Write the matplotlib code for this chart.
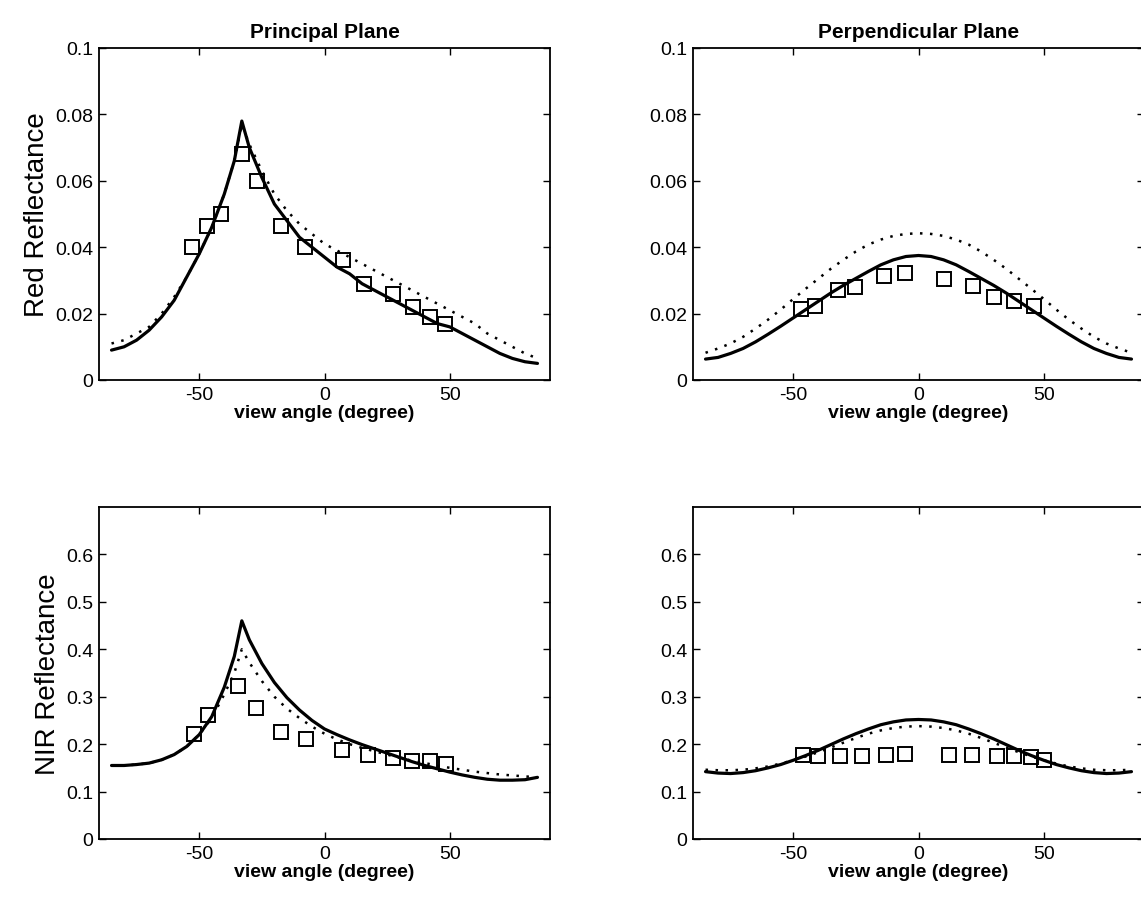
import matplotlib
matplotlib.use("Agg")
import matplotlib.pyplot as plt

plt.rcParams['font.family'] = ['Liberation Sans', 'DejaVu Sans']

# ---- model curves (view angle in degrees) ----
angle_grid = [-85, -80, -75, -70, -65, -60, -55, -50, -45, -40, -36, -33, -30, -25, -20,
              -15, -10, -5, 0, 5, 10, 15, 20, 25, 30, 35, 40, 45, 50, 55, 60, 65, 70,
              75, 80, 85]

red_pp_solid = [0.009, 0.010, 0.012, 0.015, 0.019, 0.024, 0.031, 0.038, 0.046, 0.056,
                0.066, 0.078, 0.070, 0.061, 0.053, 0.048, 0.043, 0.040, 0.037, 0.034,
                0.032, 0.029, 0.027, 0.025, 0.023, 0.021, 0.019, 0.017, 0.016, 0.014,
                0.012, 0.010, 0.008, 0.0065, 0.0055, 0.005]
red_pp_dotted = [0.011, 0.012, 0.014, 0.016, 0.020, 0.025, 0.031, 0.038, 0.046, 0.056,
                 0.066, 0.077, 0.071, 0.063, 0.056, 0.051, 0.047, 0.044, 0.041, 0.039,
                 0.037, 0.035, 0.033, 0.031, 0.029, 0.027, 0.025, 0.023, 0.021, 0.019,
                 0.017, 0.014, 0.012, 0.010, 0.008, 0.0065]

angle_grid_sym = [-85, -80, -75, -70, -65, -60, -55, -50, -45, -40, -35, -30, -25, -20,
                  -15, -10, -5, 0, 5, 10, 15, 20, 25, 30, 35, 40, 45, 50, 55, 60, 65,
                  70, 75, 80, 85]

red_pe_solid = [0.0063, 0.0068, 0.0080, 0.0095, 0.0115, 0.0138, 0.0162, 0.0187, 0.0212,
                0.0237, 0.0262, 0.0285, 0.0306, 0.0327, 0.0347, 0.0362, 0.0372, 0.0375,
                0.0372, 0.0362, 0.0347, 0.0327, 0.0306, 0.0285, 0.0262, 0.0237, 0.0212,
                0.0187, 0.0162, 0.0138, 0.0115, 0.0095, 0.0080, 0.0068, 0.0063]
red_pe_dotted = [0.0082, 0.0095, 0.0110, 0.0130, 0.0155, 0.0182, 0.0212, 0.0244, 0.0275,
                 0.0305, 0.0335, 0.0362, 0.0387, 0.0408, 0.0423, 0.0434, 0.0440, 0.0442,
                 0.0440, 0.0434, 0.0423, 0.0408, 0.0387, 0.0362, 0.0335, 0.0305, 0.0275,
                 0.0244, 0.0212, 0.0182, 0.0155, 0.0130, 0.0110, 0.0095, 0.0082]

nir_pp_solid = [0.155, 0.155, 0.157, 0.160, 0.167, 0.178, 0.195, 0.220, 0.258, 0.320,
                0.385, 0.460, 0.420, 0.370, 0.330, 0.298, 0.272, 0.250, 0.232, 0.220,
                0.209, 0.199, 0.190, 0.181, 0.172, 0.163, 0.155, 0.148, 0.141, 0.135,
                0.130, 0.126, 0.124, 0.124, 0.125, 0.130]
nir_pp_dotted = [0.155, 0.155, 0.157, 0.160, 0.167, 0.178, 0.195, 0.220, 0.255, 0.305,
                 0.350, 0.400, 0.372, 0.333, 0.300, 0.275, 0.255, 0.237, 0.222, 0.210,
                 0.200, 0.192, 0.185, 0.178, 0.171, 0.165, 0.160, 0.155, 0.150, 0.146,
                 0.142, 0.139, 0.136, 0.134, 0.132, 0.130]

nir_pe_solid = [0.142, 0.139, 0.138, 0.140, 0.144, 0.150, 0.157, 0.166, 0.176, 0.187,
                0.199, 0.211, 0.222, 0.232, 0.241, 0.247, 0.251, 0.252, 0.251, 0.247,
                0.241, 0.232, 0.222, 0.211, 0.199, 0.187, 0.176, 0.166, 0.157, 0.150,
                0.144, 0.140, 0.138, 0.139, 0.142]
nir_pe_dotted = [0.146, 0.145, 0.145, 0.146, 0.149, 0.153, 0.159, 0.166, 0.174, 0.183,
                 0.193, 0.203, 0.213, 0.222, 0.229, 0.234, 0.237, 0.238, 0.237, 0.234,
                 0.229, 0.222, 0.213, 0.203, 0.193, 0.183, 0.174, 0.166, 0.159, 0.153,
                 0.149, 0.146, 0.145, 0.145, 0.146]

# ---- measurements ----
red_pp_obs_x = [-52.7, -46.7, -41.2, -32.8, -26.8, -17.3, -7.6, 7.4, 15.6, 27.5, 35.5, 42.0, 48.0]
red_pp_obs_y = [0.040, 0.0465, 0.050, 0.068, 0.060, 0.0465, 0.040, 0.036, 0.029, 0.026,
                0.022, 0.019, 0.017]

red_pe_obs_x = [-47.0, -41.3, -32.0, -25.3, -13.9, -5.3, 10.0, 21.6, 30.1, 38.0, 46.1]
red_pe_obs_y = [0.0215, 0.0222, 0.0271, 0.0281, 0.0313, 0.0321, 0.0305, 0.0283, 0.0250,
                0.0238, 0.0222]

nir_pp_obs_x = [-52.0, -46.5, -34.5, -27.5, -17.5, -7.5, 7.0, 17.5, 27.5, 35.0, 42.0, 48.5]
nir_pp_obs_y = [0.222, 0.262, 0.322, 0.276, 0.225, 0.210, 0.187, 0.177, 0.170, 0.165,
                0.164, 0.159]

nir_pe_obs_x = [-46.0, -40.0, -31.5, -22.5, -13.0, -5.5, 12.0, 21.5, 31.5, 38.0, 45.0, 50.0]
nir_pe_obs_y = [0.178, 0.175, 0.176, 0.175, 0.177, 0.180, 0.177, 0.177, 0.175, 0.174,
                0.172, 0.166]

col_titles = ["Principal Plane", "Perpendicular Plane"]
row_labels = ["Red Reflectance", "NIR Reflectance"]
x_label = "view angle (degree)"
x_ticks = [-50, 0, 50]
red_ticks = [0, 0.02, 0.04, 0.06, 0.08, 0.1]
red_tick_labels = ["0", "0.02", "0.04", "0.06", "0.08", "0.1"]
nir_ticks = [0, 0.1, 0.2, 0.3, 0.4, 0.5, 0.6]
nir_tick_labels = ["0", "0.1", "0.2", "0.3", "0.4", "0.5", "0.6"]

W, H = 1141, 903
fig = plt.figure(figsize=(W / 100, H / 100), dpi=100)


def box(x0, y_top, w, h):
    return [x0 / W, 1 - (y_top + h) / H, w / W, h / H]


ax_w, ax_h = 451, 332
positions = [
    [box(99, 49, ax_w, ax_h), box(693, 49, ax_w, ax_h)],
    [box(99, 508, ax_w, ax_h), box(693, 508, ax_w, ax_h)],
]

panels = [
    [(angle_grid, red_pp_solid, red_pp_dotted, red_pp_obs_x, red_pp_obs_y),
     (angle_grid_sym, red_pe_solid, red_pe_dotted, red_pe_obs_x, red_pe_obs_y)],
    [(angle_grid, nir_pp_solid, nir_pp_dotted, nir_pp_obs_x, nir_pp_obs_y),
     (angle_grid_sym, nir_pe_solid, nir_pe_dotted, nir_pe_obs_x, nir_pe_obs_y)],
]

tick_font = dict(size=14)

for r in range(2):
    for c in range(2):
        ax = fig.add_axes(positions[r][c])
        xs, solid, dotted, ox, oy = panels[r][c]
        ax.plot(xs, dotted, color='black', linestyle=(0, (1, 3.0)), linewidth=1.8)
        ax.plot(xs, solid, color='black', linestyle='-', linewidth=2.3,
                solid_capstyle='round')
        ax.plot(ox, oy, linestyle='none', marker='s', markersize=10.5,
                markerfacecolor='none', markeredgecolor='black', markeredgewidth=1.4)
        ax.set_xlim(-90, 90)
        ax.set_xticks(x_ticks)
        ax.set_xticklabels([str(t) for t in x_ticks], fontdict=tick_font)
        if r == 0:
            ax.set_ylim(0, 0.1)
            ax.set_yticks(red_ticks)
            ax.set_yticklabels(red_tick_labels, fontdict=tick_font)
            ax.set_title(col_titles[c], fontsize=15, fontweight='bold', pad=8)
        else:
            ax.set_ylim(0, 0.7)
            ax.set_yticks(nir_ticks)
            ax.set_yticklabels(nir_tick_labels, fontdict=tick_font)
        ax.tick_params(direction='in', top=True, right=True, length=5, width=1.0, pad=4)
        for sp in ax.spines.values():
            sp.set_linewidth(1.3)
        ax.set_xlabel(x_label, fontsize=14, fontweight='bold', labelpad=1)
        if c == 0:
            ax.set_ylabel(row_labels[r], fontsize=20, labelpad=4)

fig.savefig("out.png", dpi=100)
